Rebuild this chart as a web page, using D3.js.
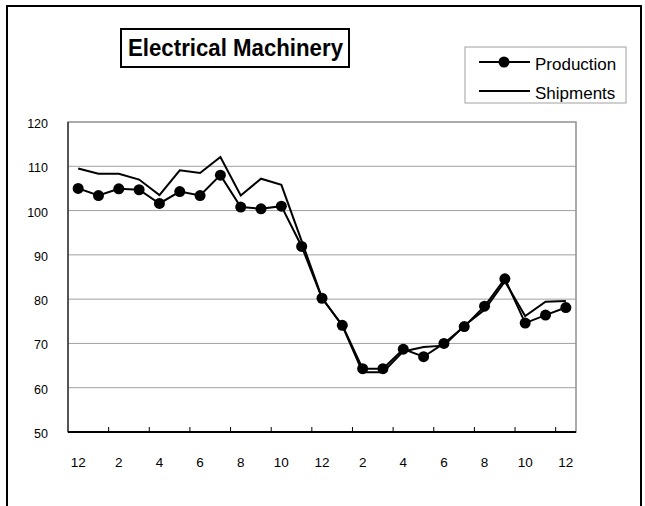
<!DOCTYPE html>
<html>
<head>
<meta charset="utf-8">
<script src="https://d3js.org/d3.v7.min.js"></script>
<style>
  body { margin: 0; background: #fff; }
  text { font-family: "Liberation Sans Narrow", "Liberation Sans", Arial, sans-serif; fill: #000; }
  .largo { font-family: "Liberation Sans", Arial, sans-serif; }
</style>
</head>
<body>
<div id="chart"></div>
<script>
// meses: dez, jan..dez, jan..dez
var meses = ["12","1","2","3","4","5","6","7","8","9","10","11","12",
             "1","2","3","4","5","6","7","8","9","10","11","12"];
var producao = [105.0, 103.4, 104.9, 104.7, 101.6, 104.3, 103.4, 108.0, 100.8, 100.4, 101.0, 91.9, 80.2,
                74.1, 64.3, 64.3, 68.7, 67.0, 70.0, 73.8, 78.4, 84.6, 74.6, 76.4, 78.1];
var embarques = [109.5, 108.3, 108.3, 107.0, 103.5, 109.1, 108.5, 112.1, 103.4, 107.2, 105.8, 93.1, 80.3,
                 74.0, 63.5, 63.5, 68.2, 69.2, 69.5, 74.0, 77.6, 84.0, 76.2, 79.4, 79.6];
var ticksY = [50, 60, 70, 80, 90, 100, 110, 120];
var titulo = "Electrical Machinery";
var nomesSeries = ["Production", "Shipments"];

var W = 645, H = 506;
var margem = {left: 68, right: 69, top: 122, bottom: 74};

var svg = d3.select("#chart").append("svg")
  .attr("width", W).attr("height", H);

// moldura externa (sem linha de baixo)
svg.append("path")
  .attr("d", "M7,506 V6 H641 V506")
  .attr("fill", "none").attr("stroke", "#000").attr("stroke-width", 2);

var x = d3.scaleBand()
  .domain(d3.range(meses.length))
  .range([margem.left, W - margem.right]);

var y = d3.scaleLinear()
  .domain([50, 120])
  .range([H - margem.bottom, margem.top]);

// grade
svg.append("g").selectAll("line")
  .data(ticksY.slice(1, -1))
  .join("line")
    .attr("x1", margem.left).attr("x2", W - margem.right)
    .attr("y1", d => y(d)).attr("y2", d => y(d))
    .attr("stroke", "#a0a0a0").attr("stroke-width", 1);

// borda da area do grafico
svg.append("rect")
  .attr("x", margem.left).attr("y", margem.top)
  .attr("width", W - margem.right - margem.left)
  .attr("height", H - margem.bottom - margem.top)
  .attr("fill", "none").attr("stroke", "#909090").attr("stroke-width", 1.5);

// eixo x
var eixoX = svg.append("g");
eixoX.append("line")
  .attr("x1", margem.left).attr("x2", W - margem.right)
  .attr("y1", y(50)).attr("y2", y(50))
  .attr("stroke", "#000").attr("stroke-width", 2);
eixoX.append("line")
  .attr("x1", margem.left).attr("x2", margem.left)
  .attr("y1", y(50)).attr("y2", y(120))
  .attr("stroke", "#000").attr("stroke-width", 1);
eixoX.selectAll("line.tick")
  .data(d3.range(2, meses.length, 2))
  .join("line")
    .attr("class", "tick")
    .attr("x1", i => x(i)).attr("x2", i => x(i))
    .attr("y1", y(50)).attr("y2", y(50) - 5)
    .attr("stroke", "#000");
eixoX.selectAll("text")
  .data(d3.range(0, meses.length, 2))
  .join("text")
    .attr("x", i => x(i) + x.bandwidth() / 2)
    .attr("y", 467)
    .attr("text-anchor", "middle")
    .attr("font-size", 13.5)
    .text(i => meses[i]);

// eixo y
svg.append("g").selectAll("text")
  .data(ticksY)
  .join("text")
    .attr("x", 48)
    .attr("y", d => y(d) + 6)
    .attr("text-anchor", "end")
    .attr("font-size", 12.5)
    .text(d => d);

var linha = d3.line()
  .x((d, i) => x(i) + x.bandwidth() / 2)
  .y(d => y(d));

svg.append("path").datum(embarques)
  .attr("d", linha)
  .attr("fill", "none").attr("stroke", "#000").attr("stroke-width", 2);

svg.append("path").datum(producao)
  .attr("d", linha)
  .attr("fill", "none").attr("stroke", "#000").attr("stroke-width", 2);

svg.append("g").selectAll("circle")
  .data(producao)
  .join("circle")
    .attr("cx", (d, i) => x(i) + x.bandwidth() / 2)
    .attr("cy", d => y(d))
    .attr("r", 5.5)
    .attr("fill", "#000");

// titulo
svg.append("rect")
  .attr("x", 121).attr("y", 29).attr("width", 228).attr("height", 38)
  .attr("fill", "#fff").attr("stroke", "#000").attr("stroke-width", 2);
svg.append("text")
  .attr("class", "largo")
  .attr("x", 128).attr("y", 56)
  .attr("font-size", 24).attr("font-weight", "bold")
  .attr("textLength", 215).attr("lengthAdjust", "spacingAndGlyphs")
  .text(titulo);

// legenda
var leg = svg.append("g");
leg.append("rect")
  .attr("x", 465).attr("y", 47).attr("width", 161).attr("height", 56)
  .attr("fill", "#fff").attr("stroke", "#a0a0a0").attr("stroke-width", 1);
nomesSeries.forEach(function(nome, k) {
  var ly = 62 + k * 29;
  leg.append("line")
    .attr("x1", 479).attr("x2", 530).attr("y1", ly).attr("y2", ly)
    .attr("stroke", "#000").attr("stroke-width", 2);
  if (k === 0) {
    leg.append("circle").attr("cx", 504).attr("cy", ly).attr("r", 5.5).attr("fill", "#000");
  }
  leg.append("text")
    .attr("class", "largo")
    .attr("x", 535).attr("y", ly + 8)
    .attr("font-size", 17)
    .text(nome);
});
</script>
</body>
</html>
